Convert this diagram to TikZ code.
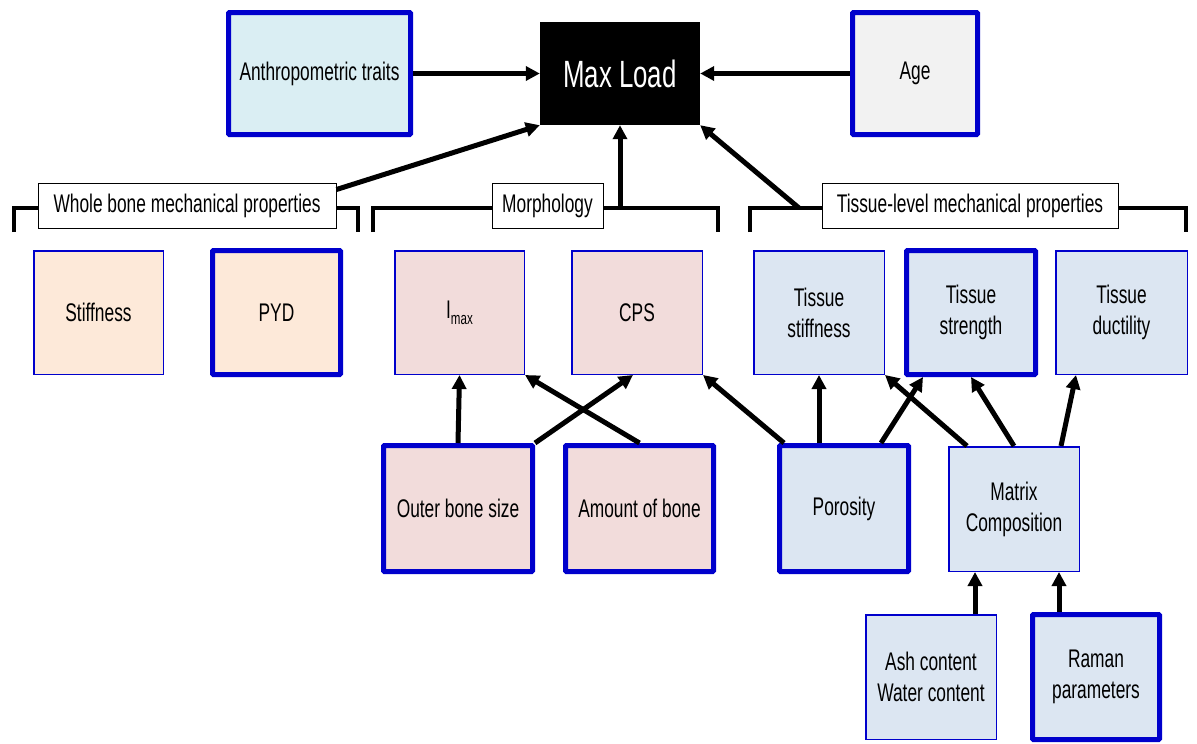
\documentclass[tikz,border=0pt]{standalone}
\usepackage{fontspec}
\setmainfont{Liberation Sans}[FakeStretch=0.68]
\usetikzlibrary{arrows.meta,calc}
\definecolor{bl}{HTML}{0000CC}
\definecolor{anthfill}{HTML}{DAEEF3}
\definecolor{agefill}{HTML}{F2F2F2}
\definecolor{peach}{HTML}{FDE9D9}
\definecolor{pink}{HTML}{F2DCDB}
\definecolor{lblue}{HTML}{DCE6F2}
\begin{document}
\begin{tikzpicture}[x=1pt,y=-1pt,
  every node/.style={font=\fontsize{25.5}{31}\selectfont, align=center, inner sep=0pt},
  thinbox/.style={draw=bl, line width=1.5pt},
  thickbox/.style={draw=bl, line width=5pt, rounded corners=1pt},
  lab/.style={draw=black, line width=1pt, fill=white},
  arr/.style={line width=5pt, -{Triangle[length=14pt,width=14pt]}},
  brk/.style={line width=3.5pt},
]
\useasboundingbox[fill=white] (0,0) rectangle (1197,744);

% top row
\node[thickbox, fill=anthfill, minimum width=182pt, minimum height=122pt] (anth) at (319.5,73.5) {Anthropometric traits};
\node[fill=black, text=white, minimum width=160pt, minimum height=103pt, font=\fontsize{38}{42}\selectfont] (maxload) at (620,73.5) {Max Load};
\node[thickbox, fill=agefill, minimum width=125pt, minimum height=122pt] (age) at (915,73.5) {Age};

% brackets
\draw[brk] (14,232) -- (14,208) -- (358,208) -- (358,232);
\draw[brk] (373,232) -- (373,208) -- (718,208) -- (718,232);
\draw[brk] (750,232) -- (750,208) -- (1186,208) -- (1186,232);
\coordinate (mb) at (620,208);
\coordinate (tb) at (799,208);

\node[lab, minimum width=298pt, minimum height=45pt] (wb) at (187,205.5) {Whole bone mechanical properties};
\node[lab, minimum width=111pt, minimum height=45pt] (morph) at (547.5,205.5) {Morphology};
\node[lab, minimum width=296pt, minimum height=45pt] (tl) at (970,205.5) {Tissue-level mechanical properties};

% row 2
\node[thinbox, fill=peach, minimum width=129.5pt, minimum height=123.5pt] (stiff) at (98.5,312.5) {Stiffness};
\node[thickbox, fill=peach, minimum width=128pt, minimum height=124pt] (pyd) at (276.5,312.5) {PYD};
\node[thinbox, fill=pink, minimum width=129.5pt, minimum height=123.5pt] (imax) at (459.5,312.5) {I\raisebox{-0.45ex}{\fontsize{17}{17}\selectfont max}};
\node[thinbox, fill=pink, minimum width=130.5pt, minimum height=123.5pt] (cps) at (637,312.5) {CPS};
\node[thinbox, fill=lblue, minimum width=130.5pt, minimum height=123.5pt] (tstiff) at (819,312.5) {Tissue\\stiffness};
\node[thickbox, fill=lblue, minimum width=129pt, minimum height=124pt] (tstr) at (971,312.5) {Tissue\\strength};
\node[thinbox, fill=lblue, minimum width=131.5pt, minimum height=123.5pt] (tduct) at (1121.5,312.5) {Tissue\\ductility};

% row 3
\node[thickbox, fill=pink, minimum width=149pt, minimum height=126pt] (outer) at (458,508.5) {Outer bone size};
\node[thickbox, fill=pink, minimum width=148pt, minimum height=126pt] (amount) at (639.5,508.5) {Amount of bone};
\node[thickbox, fill=lblue, minimum width=129pt, minimum height=126pt] (poros) at (844,508.5) {Porosity};
\node[thinbox, fill=lblue, minimum width=130.5pt, minimum height=124.5pt] (matrix) at (1014,509) {Matrix\\Composition};

% row 4
\node[thinbox, fill=lblue, minimum width=130.5pt, minimum height=124.5pt] (ash) at (931,677) {Ash content\\Water content};
\node[thickbox, fill=lblue, minimum width=127pt, minimum height=125pt] (raman) at (1096,677) {Raman\\parameters};

% arrows to Max Load
\draw[arr] (anth.east) -- (maxload.west);
\draw[arr] (age.west) -- (maxload.east);
\draw[arr] ($(wb.north east)+(0,7)$) -- (maxload.south west);
\draw[arr] (mb) -- (maxload.south);
\draw[arr] (tb) -- (maxload.south east);

% morphology arrows
\draw[arr] (outer.north) -- (imax.south);
\draw[arr] (outer.north east) -- ($(cps.south)+(-4,0)$);
\draw[arr] (amount.north) -- (imax.south east);

% tissue arrows
\draw[arr] ($(poros.north west)+(7,0)$) -- (cps.south east);
\draw[arr] (tstiff.south |- poros.north) -- (tstiff.south);
\draw[arr] ($(poros.north east)+(-30,0)$) -- ($(tstr.south west)+(19,0)$);
\draw[arr] ($(matrix.north west)+(19,0)$) -- (tstiff.south east);
\draw[arr] (matrix.north) -- (tstr.south);
\draw[arr] ($(matrix.north east)+(-19,0)$) -- ($(tduct.south west)+(21,0)$);

% matrix inputs
\draw[arr] ($(ash.north east)+(-22,0)$) -- ($(matrix.south west)+(27,0)$);
\draw[arr] ($(raman.north west)+(29,0)$) -- ($(matrix.south east)+(-21,0)$);
\end{tikzpicture}
\end{document}
